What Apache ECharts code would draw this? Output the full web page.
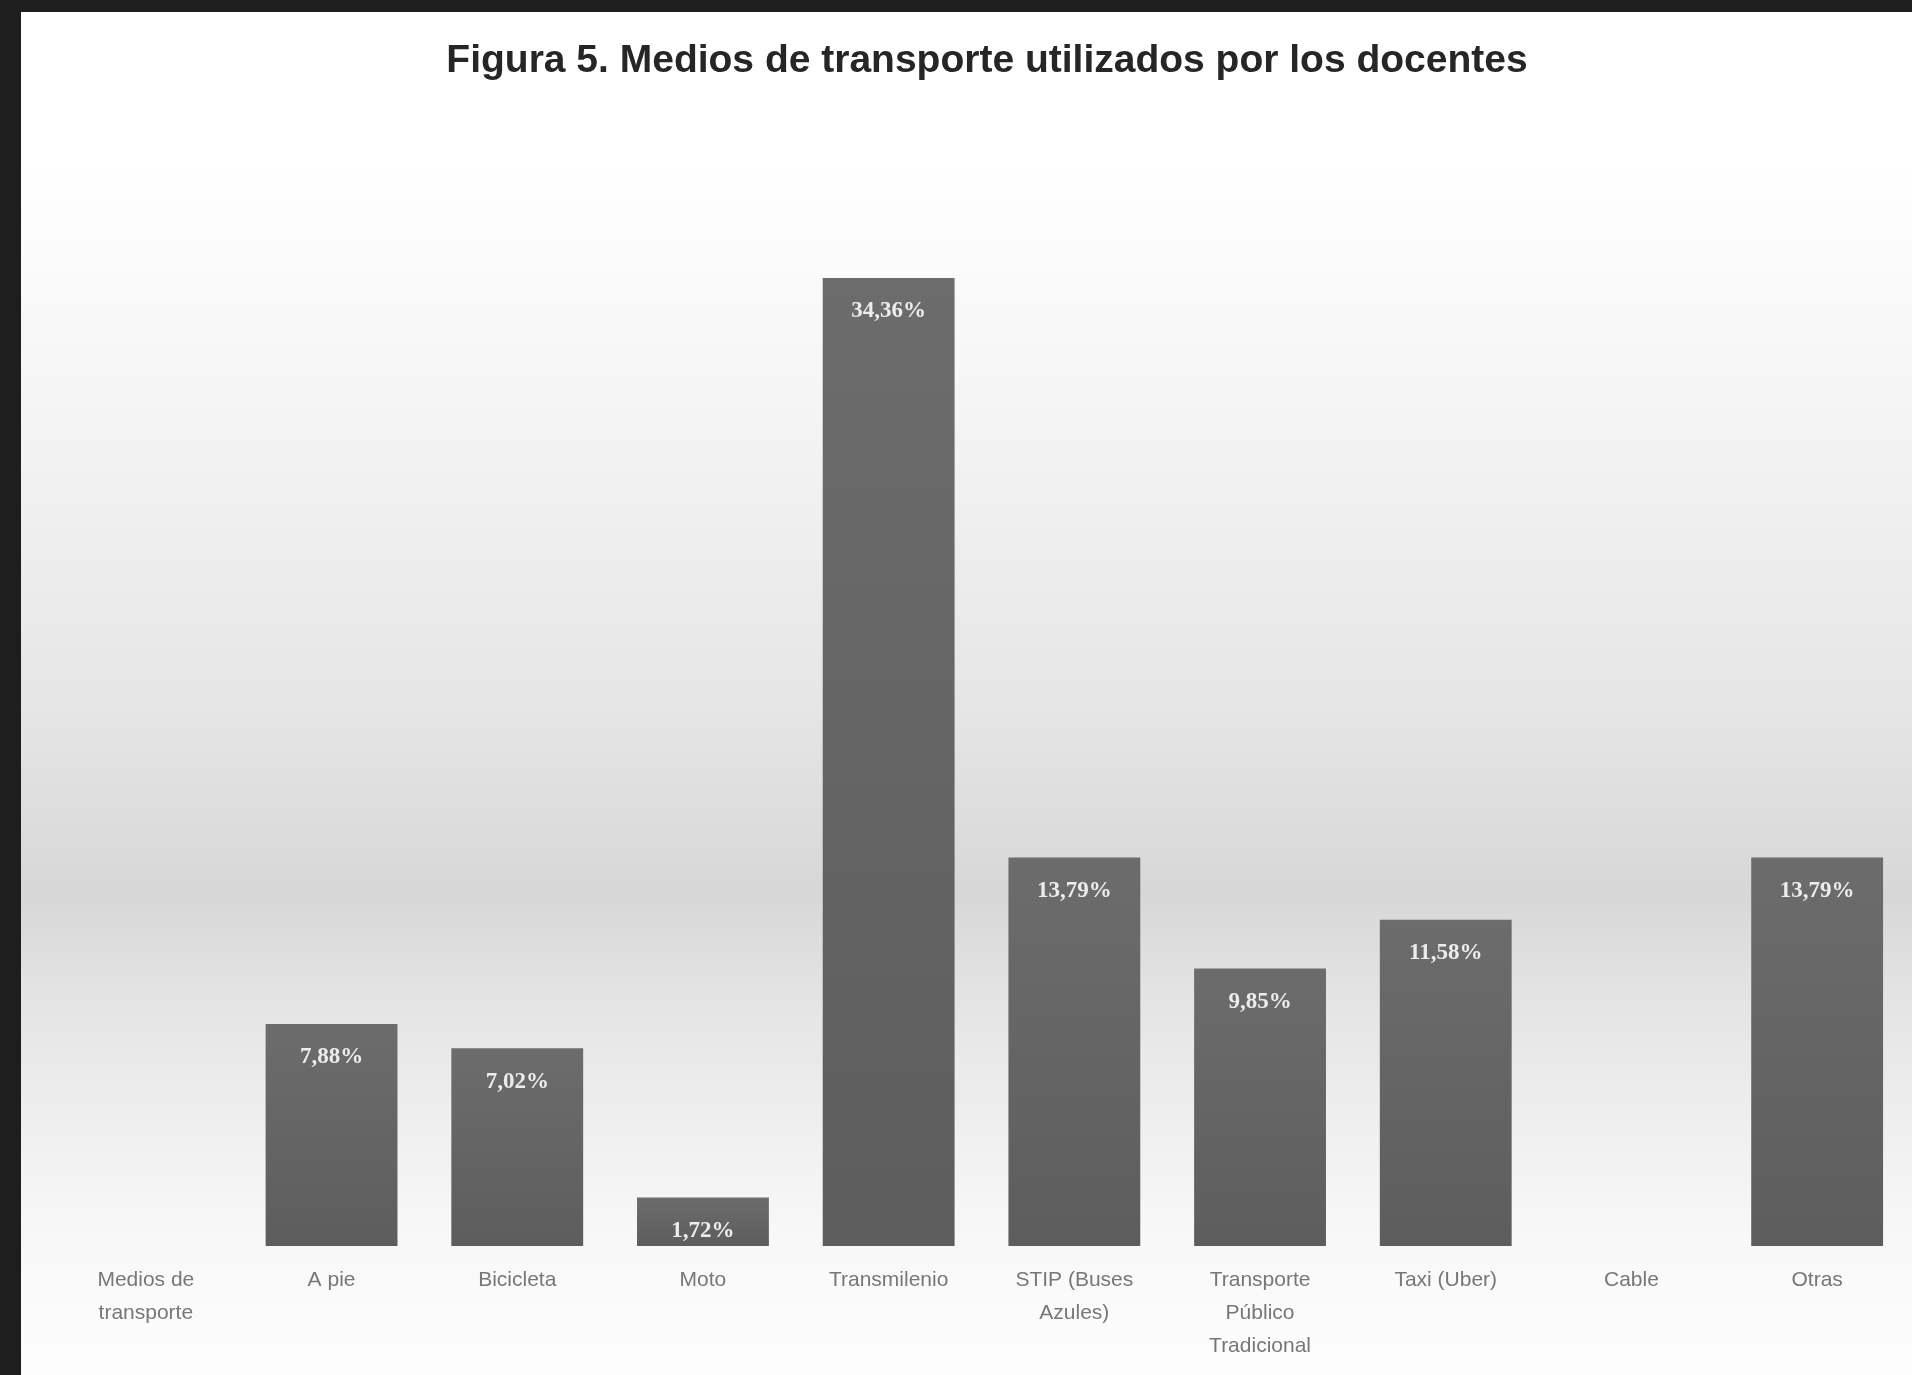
<!DOCTYPE html>
<html>
<head>
<meta charset="utf-8">
<script src="https://cdn.jsdelivr.net/npm/echarts@6/dist/echarts.min.js"></script>
<style>
html,body{margin:0;padding:0;background:#fff;}
#chart{width:1912px;height:1375px;}
</style>
</head>
<body>
<div id="chart"></div>
<script>
const titleText = 'Figura 5. Medios de transporte utilizados por los docentes';
const categories = ['Medios de\ntransporte', 'A pie', 'Bicicleta', 'Moto', 'Transmilenio', 'STIP (Buses\nAzules)', 'Transporte\nPúblico\nTradicional', 'Taxi (Uber)', 'Cable', 'Otras'];
const values = [null, 7.88, 7.02, 1.72, 34.36, 13.79, 9.85, 11.58, null, 13.79];
const valueLabels = ['', '7,88%', '7,02%', '1,72%', '34,36%', '13,79%', '9,85%', '11,58%', '', '13,79%'];

const chart = echarts.init(document.getElementById('chart'));
chart.setOption({
  animation: false,
  backgroundColor: 'transparent',
  title: {
    text: titleText,
    left: 982, top: 37, textAlign: 'center',
    textStyle: { fontFamily: 'Liberation Sans, Arial, sans-serif', fontSize: 39, fontWeight: 'bold', color: '#262626' }
  },
  graphic: [
    { type: 'rect', z: -100, silent: true, shape: { x: 0, y: 0, width: 1912, height: 1375 },
      style: { fill: new echarts.graphic.LinearGradient(0, 0, 0, 1, [
        { offset: 0.0, color: '#ffffff' },
        { offset: 0.12, color: '#ffffff' },
        { offset: 0.32, color: '#f3f3f3' },
        { offset: 0.52, color: '#e5e5e5' },
        { offset: 0.65, color: '#d7d7d7' },
        { offset: 0.72, color: '#e3e3e3' },
        { offset: 0.81, color: '#eeeeee' },
        { offset: 0.90, color: '#f8f8f8' },
        { offset: 1.0, color: '#fdfdfd' }
      ]) } },
    { type: 'rect', z: 100, silent: true, shape: { x: 0, y: 0, width: 1912, height: 12 }, style: { fill: '#1e1e1e' } },
    { type: 'rect', z: 100, silent: true, shape: { x: 0, y: 0, width: 21, height: 1375 }, style: { fill: '#1e1e1e' } }
  ],
  grid: { left: 53, right: 2, top: 119, bottom: 129, containLabel: false },
  xAxis: {
    type: 'category',
    data: categories,
    axisLine: { show: false },
    axisTick: { show: false },
    axisLabel: {
      interval: 0, margin: 18,
      fontFamily: 'Liberation Sans, Arial, sans-serif', fontSize: 21, lineHeight: 33, color: '#777777'
    }
  },
  yAxis: {
    type: 'value', min: 0, max: 40, show: false,
    splitLine: { show: false }
  },
  series: [{
    type: 'bar',
    data: values,
    barCategoryGap: '29%',
    itemStyle: {
      color: new echarts.graphic.LinearGradient(0, 0, 0, 1, [
        { offset: 0, color: '#6c6c6c' },
        { offset: 1, color: '#5d5d5d' }
      ])
    },
    label: {
      show: true, position: 'insideTop', distance: 22,
      formatter: p => valueLabels[p.dataIndex],
      fontFamily: 'Liberation Serif, Times New Roman, serif', fontWeight: 'bold', fontSize: 23, color: '#ececec'
    }
  }]
});
</script>
</body>
</html>
